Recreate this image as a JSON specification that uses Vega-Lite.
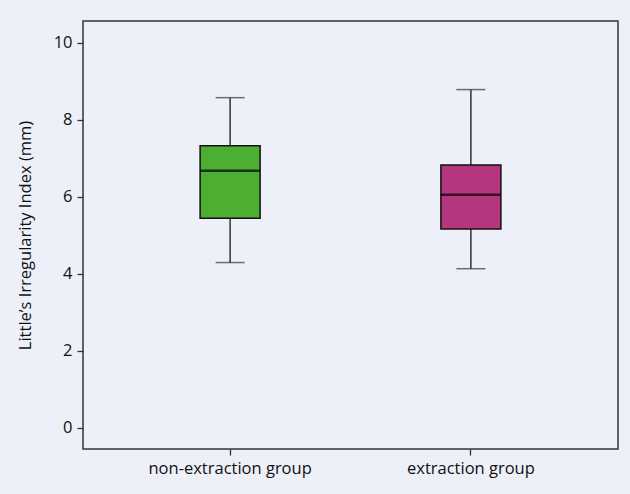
{
  "$schema": "https://vega.github.io/schema/vega-lite/v6.json",
  "width": 535,
  "height": 428,
  "autosize": {"type": "none"},
  "padding": {"left": 83, "top": 21, "right": 12, "bottom": 45},
  "background": "#edf0f9",
  "config": {
    "view": {"stroke": "#333333", "strokeWidth": 1.5, "fill": "#edf0f9"},
    "axis": {"labelFont": "Open Sans", "titleFont": "Open Sans", "labelFontSize": 16.5, "titleFontSize": 16.5, "titleFontWeight": "normal", "labelColor": "#111111", "titleColor": "#111111", "grid": false, "domain": false, "tickColor": "#333333", "tickSize": 6, "tickWidth": 1.3}
  },
  "data": {
    "values": [
      {"group": "non-extraction group", "min": 4.29, "q1": 5.44, "median": 6.67, "q3": 7.32, "max": 8.57, "color": "#4caf32"},
      {"group": "extraction group", "min": 4.13, "q1": 5.16, "median": 6.05, "q3": 6.82, "max": 8.78, "color": "#b5357f"}
    ]
  },
  "encoding": {
    "x": {"field": "group", "type": "nominal", "sort": null,
      "scale": {"paddingInner": 0, "paddingOuter": 0.111},
      "axis": {"title": null, "labelAngle": 0, "labelPadding": 5}},
    "y": {"type": "quantitative"}
  },
  "layer": [
    {
      "mark": {"type": "rule", "color": "#333333", "strokeWidth": 1.5},
      "encoding": {
        "y": {"field": "min", "type": "quantitative",
          "scale": {"domain": [-0.55, 10.56], "nice": false, "zero": false},
          "axis": {"title": "Little’s Irregularity Index (mm)", "values": [0, 2, 4, 6, 8, 10], "labelPadding": 5, "titlePadding": 20}},
        "y2": {"field": "max"}
      }
    },
    {
      "mark": {"type": "tick", "color": "#333333", "size": 29, "thickness": 1.5},
      "encoding": {"y": {"field": "min", "type": "quantitative"}}
    },
    {
      "mark": {"type": "tick", "color": "#333333", "size": 29, "thickness": 1.5},
      "encoding": {"y": {"field": "max", "type": "quantitative"}}
    },
    {
      "mark": {"type": "bar", "size": 60, "stroke": "#111111", "strokeWidth": 1.5},
      "encoding": {
        "y": {"field": "q1", "type": "quantitative"},
        "y2": {"field": "q3"},
        "color": {"field": "color", "type": "nominal", "scale": null, "legend": null}
      }
    },
    {
      "mark": {"type": "tick", "color": "#000000", "size": 60, "thickness": 2.5},
      "encoding": {"y": {"field": "median", "type": "quantitative"}}
    }
  ]
}
